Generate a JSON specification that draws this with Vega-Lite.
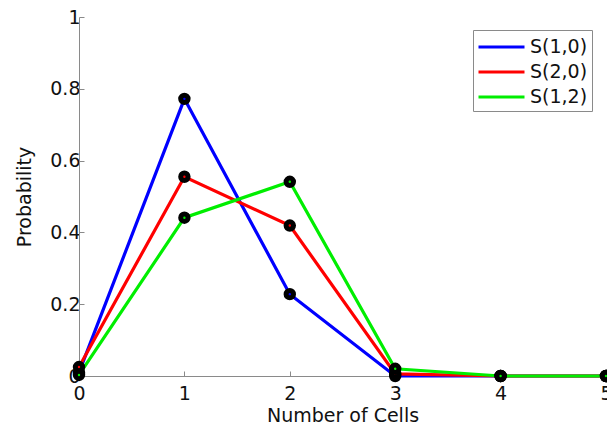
{
  "$schema": "https://vega.github.io/schema/vega-lite/v6.json",
  "autosize": {"type": "none"},
  "width": 527,
  "height": 359,
  "padding": {"left": 79, "top": 17, "right": 1, "bottom": 53},
  "background": "white",
  "config": {
    "font": "DejaVu Sans",
    "view": {"stroke": null},
    "axis": {
      "grid": false,
      "domainColor": "#8a8a8a",
      "tickColor": "#8a8a8a",
      "tickSize": -5,
      "labelFontSize": 19,
      "labelColor": "#111",
      "titleFontSize": 19,
      "titleFontWeight": "normal",
      "titleColor": "#111",
      "labelFont": "DejaVu Sans",
      "titleFont": "DejaVu Sans"
    }
  },
  "data": {
    "values": [
      {"series": "S(1,0)", "cells": 0, "prob": 0.01},
      {"series": "S(1,0)", "cells": 1, "prob": 0.772},
      {"series": "S(1,0)", "cells": 2, "prob": 0.228},
      {"series": "S(1,0)", "cells": 3, "prob": 0.0},
      {"series": "S(1,0)", "cells": 4, "prob": 0.0},
      {"series": "S(1,0)", "cells": 5, "prob": 0.0},
      {"series": "S(2,0)", "cells": 0, "prob": 0.025},
      {"series": "S(2,0)", "cells": 1, "prob": 0.555},
      {"series": "S(2,0)", "cells": 2, "prob": 0.419},
      {"series": "S(2,0)", "cells": 3, "prob": 0.006},
      {"series": "S(2,0)", "cells": 4, "prob": 0.0},
      {"series": "S(2,0)", "cells": 5, "prob": 0.0},
      {"series": "S(1,2)", "cells": 0, "prob": 0.003},
      {"series": "S(1,2)", "cells": 1, "prob": 0.441},
      {"series": "S(1,2)", "cells": 2, "prob": 0.541},
      {"series": "S(1,2)", "cells": 3, "prob": 0.02},
      {"series": "S(1,2)", "cells": 4, "prob": 0.0},
      {"series": "S(1,2)", "cells": 5, "prob": 0.0}
    ]
  },
  "encoding": {
    "x": {
      "field": "cells", "type": "quantitative",
      "scale": {"domain": [0, 5], "nice": false},
      "axis": {"values": [0, 1, 2, 3, 4, 5], "title": "Number of Cells", "labelPadding": 13, "titlePadding": 3, "labelFlush": false}
    },
    "y": {
      "field": "prob", "type": "quantitative",
      "scale": {"domain": [0, 1], "nice": false},
      "axis": {"values": [0, 0.2, 0.4, 0.6, 0.8, 1], "title": "Probability", "labelPadding": 4, "titlePadding": 15, "labelFlush": false, "labelExpr": "datum.value == 0 ? '0' : datum.value == 1 ? '1' : format(datum.value, '.1f')"}
    },
    "color": {
      "field": "series", "type": "nominal",
      "scale": {"domain": ["S(1,0)", "S(2,0)", "S(1,2)"], "range": ["#0000ff", "#ff0000", "#00ee00"]},
      "legend": {
        "title": null,
        "orient": "none",
        "legendX": 394,
        "legendY": 13,
        "symbolType": "M-1,0H3",
        "symbolStrokeWidth": 3,
        "symbolSize": 529,
        "labelOffset": 27,
        "labelFontSize": 19,
        "labelFont": "DejaVu Sans",
        "labelColor": "#111",
        "rowPadding": 2,
        "padding": 4,
        "strokeColor": "#8a8a8a",
        "fillColor": "white"
      }
    }
  },
  "layer": [
    {
      "mark": {"type": "line", "strokeWidth": 3.2}
    },
    {
      "mark": {"type": "point", "filled": true, "size": 55, "stroke": "black", "strokeWidth": 5, "strokeOpacity": 1, "opacity": 1},
      "encoding": {
        "fill": {"field": "series", "type": "nominal", "scale": {"domain": ["S(1,0)", "S(2,0)", "S(1,2)"], "range": ["#0000ff", "#ff0000", "#00ee00"]}, "legend": null}
      }
    }
  ]
}
